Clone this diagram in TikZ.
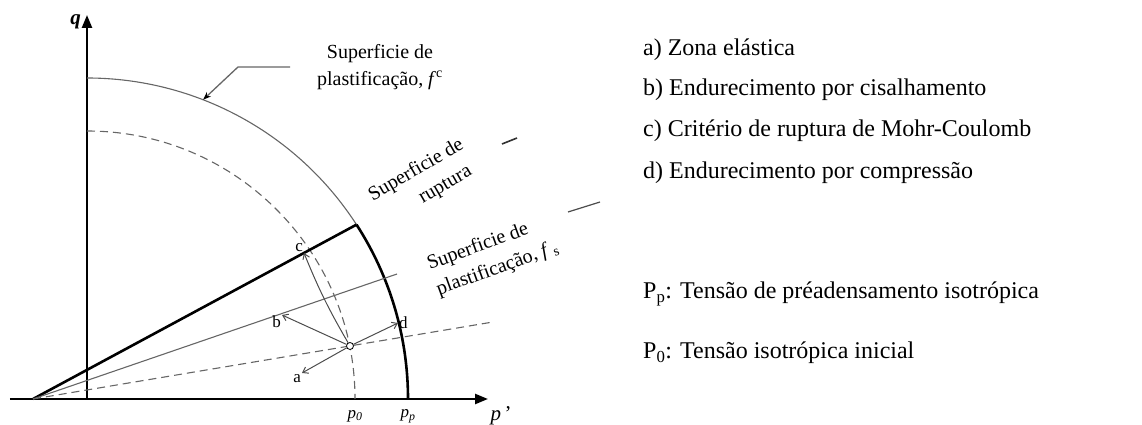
\documentclass[tikz,border=0pt]{standalone}
\usepackage{fontspec}
\setmainfont{Liberation Serif}
\usetikzlibrary{arrows.meta}

\begin{document}
\begin{tikzpicture}[x=1pt,y=1pt,
  axis/.style={line width=2.4pt,-{Triangle[length=13pt,width=10pt]}},
  thinline/.style={line width=1.1pt,black!60},
  thickline/.style={line width=2.6pt},
  dashline/.style={thinline,dash pattern=on 8pt off 5pt},
  patharrow/.style={line width=1pt,black!70,-{Straight Barb[length=5pt,width=7pt]}},
  leader/.style={line width=1.3pt,black!60,-{Stealth[length=8pt,width=6pt,black]}},
  lbl/.style={font=\fontsize{20}{27}\selectfont,align=center,inner sep=0pt},
  ptlbl/.style={font=\fontsize{17}{18}\selectfont,inner sep=1pt},
  axlbl/.style={font=\fontsize{21}{22}\selectfont,inner sep=0pt},
  legend/.style={font=\fontsize{24}{26}\selectfont,anchor=west,inner sep=0pt}]

\useasboundingbox (-87,-26) rectangle (1055,399);

% Parameters
\def\Ro{321}   % yield surface radius
\def\Ri{268}   % initial yield surface radius
\def\tc{32.9}  % corner angle

% Points
\coordinate (O) at (0,0);
\coordinate (A) at (-54,0);
\coordinate (C) at (\tc:\Ro);
\coordinate (Fs) at (310,125);
\coordinate (Dl) at (406,77);
\coordinate (Px) at (401,0);
\coordinate (Qy) at (0,384);
\coordinate (Xl) at (-77,0);

% Axes
\draw[axis] (Xl) -- (Px);
\draw[axis] (O) -- (Qy);
\node[axlbl,anchor=east] (q) at (-6,377) {\textit{\textbf{q}}};
\node[axlbl] (p) at (414,-17) {\textit{p}\,’};
\node[ptlbl] (p0) at (268,-17) {\textit{p}\textsubscript{\textit{0}}};
\node[ptlbl] (pp) at (321,-17) {\textit{p}\textsubscript{\textit{p}}};

% Yield surfaces
\draw[thinline] (0,\Ro) arc (90:\tc:\Ro);
\draw[thickline] (C) arc (\tc:0:\Ro);
\draw[dashline] (0,\Ri) arc (90:0:\Ri);

% Lines from apex
\draw[thickline] (A) -- (C);
\draw[thinline] (A) -- (Fs);
\draw[dashline] (A) -- (Dl);

% Stress state and paths
\coordinate (Ta) at (215,26);
\coordinate (Tb) at (195,84);
\coordinate (Tc) at (217,146);
\coordinate (Td) at (311,76);
\node[circle,draw,fill=white,inner sep=0pt,minimum size=7pt,line width=0.8pt] (S) at (263,53) {};
\draw[patharrow] (S) -- (Ta);
\draw[patharrow] (S) -- (Tb);
\draw[patharrow] (S) to[bend left=4] (Tc);
\draw[patharrow] (S) -- (Td);
\node[ptlbl,anchor=north east] (la) at (Ta) {a};
\node[ptlbl,anchor=north east] (lb) at (Tb) {b};
\node[ptlbl,anchor=south east] (lc) at (Tc) {c};
\node[ptlbl,anchor=west] (ld) at (Td) {d};

% Leader to yield surface
\coordinate (L1) at (203,332);
\coordinate (L2) at (151,332);
\coordinate (Lt) at (68.8:\Ro);
\draw[leader] (L1) -- (L2) -- (Lt);
\node[lbl] (fc) at (293,332) {Superficie de\\plastificação, \textit{f}\textsuperscript{c}};

% Rotated labels
\node[lbl,rotate=30] (rup) at (336,217) {Superficie de\\\hspace*{1.8em}ruptura};
\node[lbl,rotate=20,align=left] (fsl) at (406,143) {Superficie de\\plastificação, \textit{f}\,\textsubscript{s}};
\draw[line width=1.6pt,black!80] (415,255) -- (430,261);
\draw[line width=1.2pt,black!70] (481,187) -- (513,197);

% Legend
\node[legend] (lega) at (556,349) {a) Zona elástica};
\node[legend] (legb) at (556,309) {b) Endurecimento por cisalhamento};
\node[legend] (legc) at (556,268) {c) Critério de ruptura de Mohr-Coulomb};
\node[legend] (legd) at (556,226) {d) Endurecimento por compressão};
\node[legend] (legp) at (556,105) {P\textsubscript{p}: Tensão de préadensamento isotrópica};
\node[legend] (lego) at (556,46) {P\textsubscript{0}: Tensão isotrópica inicial};

\end{tikzpicture}
\end{document}
